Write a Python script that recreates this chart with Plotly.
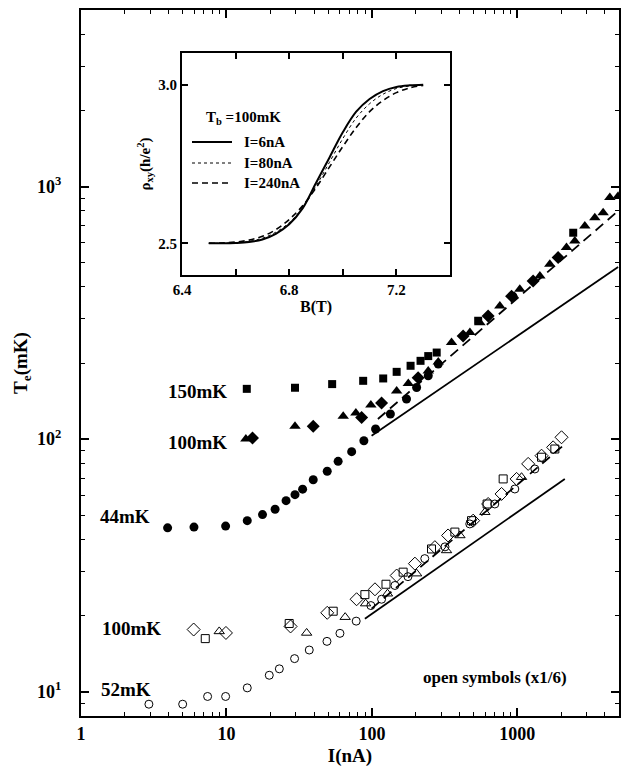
import math
import plotly.graph_objects as go

# ---------------- data ----------------
# filled symbols
I_44 = [3.94, 5.98, 9.87, 13.9, 17.7, 21.6, 25.7, 29.6, 33.4, 39.5, 49.3, 58.6, 72.6, 88.1, 106, 134, 173, 203, 244, 286, 931]
T_44 = [44.5, 44.8, 45.2, 47.5, 50.2, 52.7, 57.0, 60.2, 63.3, 69.0, 74.5, 81.6, 89.1, 98.4, 109.6, 125.6, 144, 160, 178, 198, 368]

I_150 = [13.8, 29.6, 53.3, 87.1, 119.6, 148, 184.5, 216, 244, 279, 538, 2422]
T_150 = [158, 159.6, 165, 170, 173.7, 184.5, 195, 204, 213, 220, 294, 656]

I_100t = [13.6, 29.6, 63.5, 77.6, 98.4, 148, 178, 244, 286, 353, 472, 553, 758, 1040, 1429, 1672, 2177, 2484, 2910, 3410, 3890, 4325, 4930]
T_100t = [100, 112.3, 123, 126.7, 136.3, 155, 166, 186, 202, 241, 264, 289, 336, 392, 442, 492, 573, 608, 697, 752, 787, 905, 915]

I_100d = [15.1, 39.5, 85, 116.6, 208, 424, 630, 913, 1284, 1907]
T_100d = [100.9, 112.3, 121.8, 138.8, 175, 256, 307, 368, 422, 523]

# open symbols (x1/6)
I_52o = [2.93, 5.0, 7.42, 9.87, 13.9, 19.7, 23.1, 29.4, 37.1, 49.1, 60.3, 78.0, 98.4, 116.6, 144, 177, 231, 318, 471, 700, 961, 1319]
T_52o = [8.91, 8.91, 9.56, 9.56, 10.34, 11.6, 12.3, 13.5, 14.6, 15.8, 17.0, 19.0, 21.9, 23.2, 26.3, 28.5, 33.6, 37.4, 46.1, 55.3, 63.4, 76.1]

I_od = [5.95, 9.92, 27.6, 49.3, 78.5, 105, 148, 197.6, 271, 334, 497, 630, 779, 988, 1187, 1467, 1762, 2013]
T_od = [17.6, 17.06, 18.1, 20.5, 23.2, 25.4, 28.8, 32.1, 37.3, 41.5, 47.5, 55.3, 60.6, 69.5, 79.7, 85.9, 92.7, 101.6]

I_os = [7.15, 27.0, 54.2, 89.5, 125, 164, 257, 372, 484, 620, 799, 1467, 1811]
T_os = [16.2, 18.6, 20.8, 24.2, 26.6, 29.7, 36.7, 42.8, 47.5, 55.3, 69.5, 84.7, 91.3]

I_ot = [8.92, 35.6, 65.5, 90.5, 128, 203, 326, 403, 598, 1069]
T_ot = [17.3, 17.06, 19.7, 22.3, 24.4, 29.3, 36.2, 41.5, 51.3, 70.6]

# fitted lines (end points)
I_up_solid = [99.5, 4930]
T_up_solid = [103, 480]
I_up_dash = [110, 4930]
T_up_dash = [120, 800]
I_lo_solid = [89.5, 2120]
T_lo_solid = [19.4, 69.5]
I_lo_dash = [99.5, 2065]
T_lo_dash = [21.3, 94.1]

# inset: rho_xy(B)
B_T = [6.50, 6.55, 6.60, 6.65, 6.70, 6.75, 6.80, 6.85, 6.90, 6.95, 7.00, 7.05, 7.10, 7.15, 7.20, 7.25, 7.30]
rho_6nA = [2.500, 2.500, 2.501, 2.504, 2.512, 2.530, 2.560, 2.610, 2.690, 2.770, 2.850, 2.915, 2.955, 2.980, 2.993, 2.998, 3.000]
rho_80nA = [2.500, 2.500, 2.502, 2.506, 2.516, 2.535, 2.565, 2.612, 2.680, 2.755, 2.830, 2.895, 2.940, 2.970, 2.988, 2.996, 3.000]
rho_240nA = [2.500, 2.501, 2.504, 2.510, 2.522, 2.543, 2.575, 2.618, 2.675, 2.740, 2.805, 2.865, 2.915, 2.950, 2.975, 2.990, 2.998]

# ---------------- layout helpers ----------------
W, H = 624, 773
L, R, T, Bm = 81, 619, 10, 716
FONT = "Liberation Serif"


def px2paper(x, y):
    return (x - L) / (R - L), 1 - (y - T) / (Bm - T)


fig = go.Figure()


def pts(x, y, sym, size, open_=False):
    if open_:
        marker = dict(symbol=sym + "-open", size=size, color="black", line=dict(width=1, color="black"))
    else:
        marker = dict(symbol=sym, size=size, color="black", line=dict(width=0))
    fig.add_trace(go.Scatter(x=x, y=y, mode="markers", marker=marker, showlegend=False,
                             xaxis="x", yaxis="y"))


def line(x, y, dash, width=2):
    fig.add_trace(go.Scatter(x=x, y=y, mode="lines", line=dict(color="black", width=width, dash=dash),
                             showlegend=False, xaxis="x", yaxis="y"))


line(I_up_solid, T_up_solid, "solid", 1.8)
line(I_up_dash, T_up_dash, "10px,6px", 1.8)
line(I_lo_solid, T_lo_solid, "solid", 1.8)
line(I_lo_dash, T_lo_dash, "10px,6px", 1.8)

pts(I_44, T_44, "circle", 9)
pts(I_150, T_150, "square", 8)
pts(I_100t, T_100t, "triangle-up", 10)
pts(I_100d, T_100d, "diamond", 10)

pts(I_52o, T_52o, "circle", 8, True)
pts(I_od, T_od, "diamond", 10, True)
pts(I_os, T_os, "square", 8, True)
pts(I_ot, T_ot, "triangle-up", 9, True)

# inset curves
fig.add_trace(go.Scatter(x=B_T, y=rho_6nA, mode="lines", line=dict(color="black", width=2, shape="spline"),
                         showlegend=False, xaxis="x2", yaxis="y2"))
fig.add_trace(go.Scatter(x=B_T, y=rho_80nA, mode="lines", line=dict(color="black", width=1, dash="dot", shape="spline"),
                         showlegend=False, xaxis="x2", yaxis="y2"))
fig.add_trace(go.Scatter(x=B_T, y=rho_240nA, mode="lines", line=dict(color="black", width=1.6, dash="6px,4px", shape="spline"),
                         showlegend=False, xaxis="x2", yaxis="y2"))

# ticks
x_major = [1, 10, 100, 1000]
x_minor = [m * 10 ** e for e in range(0, 4) for m in range(2, 10) if m * 10 ** e <= 5000]
y_major = [10, 100, 1000]
y_minor = [m * 10 ** e for e in range(0, 4) for m in range(2, 10) if 8 <= m * 10 ** e <= 5000]

tickfont = dict(family=FONT, size=18, color="black", weight="bold")
inset_tickfont = dict(family=FONT, size=15, color="black", weight="bold")

fig.update_layout(
    width=W, height=H,
    margin=dict(l=L, r=W - R, t=T, b=H - Bm),
    paper_bgcolor="white", plot_bgcolor="white",
    font=dict(family=FONT, color="black", size=16),
    xaxis=dict(type="log", range=[0, math.log10(5000)], domain=[0, 1], automargin=False,
               title=dict(text="I(nA)", font=dict(family=FONT, size=19, color="black", weight="bold"), standoff=6),
               tickvals=x_major, ticktext=[str(v) for v in x_major], tickfont=tickfont,
               ticks="inside", ticklen=8, tickwidth=1.5, tickcolor="black",
               minor=dict(ticks="inside", ticklen=4, tickwidth=1.2, tickcolor="black", tickvals=x_minor, showgrid=False),
               showline=True, linewidth=2, linecolor="black", mirror="ticks",
               showgrid=False, zeroline=False),
    yaxis=dict(type="log", range=[math.log10(8), math.log10(5000)], domain=[0, 1], automargin=False,
               title=dict(text="T<sub>e</sub>(mK)", font=dict(family=FONT, size=19, color="black", weight="bold"), standoff=4),
               tickvals=y_major, ticktext=["10<sup>1</sup>", "10<sup>2</sup>", "10<sup>3</sup>"], tickfont=tickfont,
               ticks="inside", ticklen=8, tickwidth=1.5, tickcolor="black", ticklabelstandoff=14,
               minor=dict(ticks="inside", ticklen=4, tickwidth=1.2, tickcolor="black", tickvals=y_minor, showgrid=False),
               showline=True, linewidth=2, linecolor="black", mirror="ticks",
               showgrid=False, zeroline=False),
    xaxis2=dict(range=[6.4, 7.4], domain=list((px2paper(182, 0)[0], px2paper(450, 0)[0])), anchor="y2",
                automargin=False,
                title=dict(text="B(T)", font=dict(family=FONT, size=16, color="black", weight="bold"), standoff=4),
                tickvals=[6.4, 6.8, 7.2], ticktext=["6.4", "6.8", "7.2"], tickfont=inset_tickfont,
                ticks="inside", ticklen=6, tickwidth=1.5, tickcolor="black",
                minor=dict(ticks="inside", ticklen=6, tickwidth=1.5, tickcolor="black", tickvals=[6.6, 7.0]),
                showline=True, linewidth=2, linecolor="black", mirror="ticks",
                showgrid=False, zeroline=False),
    yaxis2=dict(range=[2.4, 3.1], domain=[px2paper(0, 275)[1], px2paper(0, 53)[1]], anchor="x2",
                automargin=False,
                title=dict(text="ρ<sub>xy</sub>(h/e<sup>2</sup>)", font=dict(family=FONT, size=15, color="black", weight="bold"), standoff=4),
                tickvals=[2.5, 3.0], ticktext=["2.5", "3.0"], tickfont=inset_tickfont,
                ticks="inside", ticklen=6, tickwidth=1.5, tickcolor="black",
                showline=True, linewidth=2, linecolor="black", mirror="ticks",
                showgrid=False, zeroline=False),
)

# inset background (white box behind inset)
x0, y0 = px2paper(182, 275)
x1, y1 = px2paper(450, 53)
fig.add_shape(type="rect", xref="paper", yref="paper", x0=x0, y0=y0, x1=x1, y1=y1,
              fillcolor="white", line=dict(width=0), layer="below")


def ann(text, x, y, size=18, xanchor="center", angle=0):
    xp, yp = px2paper(x, y)
    fig.add_annotation(text="<b>" + text + "</b>", x=xp, y=yp, xref="paper", yref="paper", showarrow=False,
                       xanchor=xanchor, yanchor="middle", textangle=angle,
                       font=dict(family=FONT, size=size, color="black"))


# curve labels
ann("150mK", 197, 391, 19)
ann("100mK", 197, 442, 19)
ann("44mK", 125, 516, 19)
ann("100mK", 131, 628, 19)
ann("52mK", 126, 689, 19)
ann("open symbols (x1/6)", 495, 677, 17)

# inset legend
ann("T<sub>b</sub> =100mK", 204, 118, 15, xanchor="left")
leg = [("I=6nA", 142, "solid", 2), ("I=80nA", 163, "dot", 1), ("I=240nA", 183, "6px,4px", 1.6)]
for label, yy, dash, wd in leg:
    xa, ya = px2paper(192, yy)
    xb, _ = px2paper(232, yy)
    fig.add_shape(type="line", xref="paper", yref="paper", x0=xa, y0=ya, x1=xb, y1=ya,
                  line=dict(color="black", width=wd, dash=dash))
    ann(label, 242, yy, 15, xanchor="left")

fig.write_html("out.html")
